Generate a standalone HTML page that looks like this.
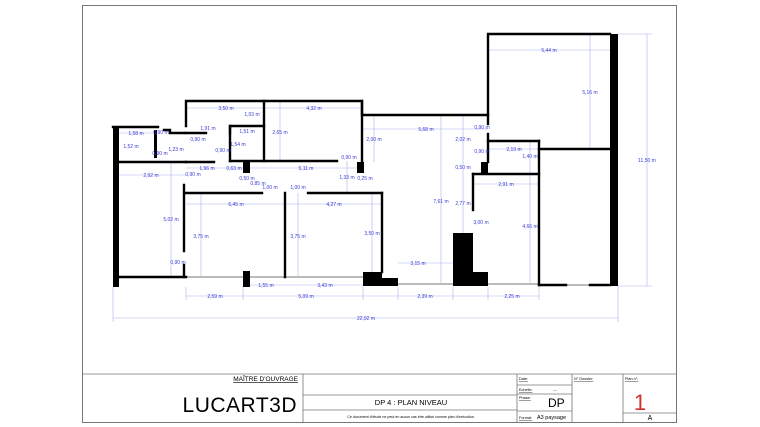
<!DOCTYPE html>
<html><head><meta charset="utf-8"><style>
html,body{margin:0;padding:0;background:#fff;width:760px;height:427px;overflow:hidden}
svg{display:block}
.d{font-family:"Liberation Sans",sans-serif;font-size:5px;fill:#3b3bd6;text-anchor:middle}
.t{font-family:"Liberation Sans",sans-serif;fill:#000}
</style></head><body>
<svg width="760" height="427" viewBox="0 0 760 427" xmlns="http://www.w3.org/2000/svg">
<rect x="82.5" y="5.5" width="594" height="417" fill="none" stroke="#777" stroke-width="1"/>
<g stroke="#aab0f0" stroke-width="0.6" fill="none">
<line x1="113" y1="318" x2="618" y2="318"/>
<line x1="186" y1="296" x2="539" y2="296"/>
<line x1="647" y1="34" x2="647" y2="286"/>
<line x1="618" y1="34" x2="652" y2="34"/><line x1="618" y1="286" x2="652" y2="286"/>
<line x1="113" y1="287" x2="113" y2="322"/><line x1="618" y1="286" x2="618" y2="322"/>
<line x1="186" y1="287" x2="186" y2="300"/><line x1="243" y1="287" x2="243" y2="300"/>
<line x1="363" y1="287" x2="363" y2="300"/><line x1="398" y1="287" x2="398" y2="300"/>
<line x1="453" y1="287" x2="453" y2="300"/><line x1="488" y1="287" x2="488" y2="300"/>
<line x1="539" y1="287" x2="539" y2="300"/>
<line x1="488" y1="50" x2="610" y2="50"/><line x1="590" y1="34" x2="590" y2="149"/>
<line x1="362" y1="129" x2="488" y2="129"/><line x1="441" y1="115" x2="441" y2="285"/>
<line x1="463" y1="115" x2="463" y2="233"/><line x1="398" y1="263" x2="453" y2="263"/>
<line x1="530" y1="174" x2="530" y2="285"/><line x1="473" y1="184" x2="539" y2="184"/>
<line x1="488" y1="149" x2="539" y2="149"/><line x1="530" y1="141" x2="530" y2="174"/>
<line x1="186" y1="108" x2="362" y2="108"/><line x1="186" y1="168" x2="362" y2="168"/>
<line x1="186" y1="204" x2="382" y2="204"/><line x1="119" y1="175" x2="186" y2="175"/>
<line x1="171" y1="162" x2="171" y2="277"/><line x1="201" y1="193" x2="201" y2="277"/>
<line x1="298" y1="193" x2="298" y2="277"/><line x1="372" y1="193" x2="372" y2="272"/>
<line x1="280" y1="101" x2="280" y2="161"/><line x1="347" y1="161" x2="347" y2="193"/>
<line x1="250" y1="285" x2="363" y2="285"/><line x1="119" y1="133" x2="155" y2="133"/>
<line x1="374" y1="115" x2="374" y2="162"/>
</g>
<g stroke="#bbb" stroke-width="2" fill="none">
<line x1="186" y1="277" x2="363" y2="277"/><line x1="398" y1="284" x2="453" y2="284"/>
<line x1="488" y1="284" x2="539" y2="284"/><line x1="566" y1="285" x2="590" y2="285"/>
</g>
<g stroke="#000" stroke-width="2.4" fill="none" stroke-linecap="square">
<polyline points="186,126 186,101 362,101 362,115 488,115 488,34 610,34"/>
<line x1="362" y1="101" x2="362" y2="162"/>
<line x1="264" y1="101" x2="264" y2="161"/>
<polyline points="230,133 230,126 264,126"/>
<line x1="230" y1="126" x2="230" y2="161"/>
<line x1="230" y1="161" x2="337" y2="161"/>
<line x1="113" y1="127" x2="158" y2="127"/>
<polyline points="164,130 170,130 170,133 185,133"/>
<line x1="186" y1="133" x2="206" y2="133"/>
<line x1="119" y1="162" x2="186" y2="162"/>
<line x1="186" y1="162" x2="214" y2="162"/>
<line x1="119" y1="277" x2="186" y2="277"/>
<line x1="184" y1="185" x2="184" y2="251"/>
<line x1="184" y1="265" x2="184" y2="277"/>
<line x1="186" y1="193" x2="262" y2="193"/>
<line x1="308" y1="193" x2="382" y2="193"/>
<line x1="285" y1="193" x2="285" y2="277"/>
<line x1="382" y1="193" x2="382" y2="272"/>
<line x1="488" y1="115" x2="488" y2="124"/>
<line x1="488" y1="134" x2="488" y2="162"/>
<line x1="488" y1="141" x2="539" y2="141"/>
<line x1="539" y1="141" x2="539" y2="285"/>
<line x1="539" y1="149" x2="610" y2="149"/>
<line x1="473" y1="174" x2="539" y2="174"/>
<line x1="473" y1="174" x2="473" y2="210"/>
<line x1="539" y1="285" x2="566" y2="285"/><line x1="590" y1="285" x2="610" y2="285"/>
</g>
<g fill="#000">
<rect x="113" y="127" width="6" height="160"/>
<rect x="154" y="130" width="3" height="28"/>
<rect x="243" y="162" width="7" height="11"/>
<rect x="243" y="271" width="7" height="16"/>
<rect x="357" y="162" width="7" height="11"/>
<rect x="363" y="272" width="19" height="14"/>
<rect x="382" y="278" width="16" height="8"/>
<rect x="481" y="162" width="7" height="11"/>
<rect x="453" y="233" width="20" height="53"/>
<rect x="473" y="272" width="15" height="14"/>
<rect x="610" y="34" width="8" height="252"/>
</g>
<g class="d">
<text x="226" y="110">3,50 m</text><text x="252" y="116">1,03 m</text><text x="314" y="110">4,32 m</text>
<text x="208" y="130">1,91 m</text><text x="136" y="135">1,58 m</text><text x="161" y="134">0,90 m</text>
<text x="247" y="133">1,51 m</text><text x="280" y="134">2,65 m</text><text x="131" y="148">1,52 m</text>
<text x="176" y="151">1,23 m</text><text x="160" y="155">0,90 m</text><text x="198" y="141">0,90 m</text>
<text x="238" y="146">1,54 m</text><text x="223" y="152">0,90 m</text><text x="374" y="141">2,00 m</text>
<text x="426" y="131">5,68 m</text><text x="482" y="129">0,90 m</text><text x="463" y="141">2,02 m</text>
<text x="482" y="153">0,90 m</text><text x="514" y="151">2,19 m</text><text x="530" y="158">1,40 m</text>
<text x="463" y="169">0,50 m</text><text x="506" y="186">2,91 m</text><text x="441" y="203">7,61 m</text>
<text x="463" y="205">2,77 m</text><text x="481" y="224">3,00 m</text><text x="530" y="228">4,66 m</text>
<text x="549" y="52">5,44 m</text><text x="590" y="94">5,16 m</text><text x="647" y="162">11,50 m</text>
<text x="151" y="177">2,92 m</text><text x="207" y="170">1,96 m</text><text x="234" y="170">0,63 m</text>
<text x="306" y="170">5,11 m</text><text x="349" y="159">0,90 m</text><text x="193" y="176">0,90 m</text>
<text x="247" y="180">0,50 m</text><text x="258" y="185">0,85 m</text><text x="270" y="189">1,00 m</text>
<text x="298" y="189">1,00 m</text><text x="347" y="179">1,33 m</text><text x="365" y="180">0,25 m</text>
<text x="236" y="206">6,45 m</text><text x="334" y="206">4,27 m</text><text x="171" y="221">5,02 m</text>
<text x="201" y="238">3,75 m</text><text x="298" y="238">3,75 m</text><text x="372" y="235">3,50 m</text>
<text x="178" y="264">0,90 m</text><text x="418" y="265">3,15 m</text><text x="266" y="287">1,55 m</text>
<text x="325" y="287">3,43 m</text><text x="215" y="298">2,59 m</text><text x="306" y="298">5,09 m</text>
<text x="425" y="298">2,39 m</text><text x="512" y="298">2,25 m</text><text x="366" y="320">22,92 m</text>
</g>
<g stroke="#777" stroke-width="0.8" fill="none">
<line x1="82" y1="374" x2="676" y2="374"/>
<line x1="303" y1="374" x2="303" y2="422"/><line x1="517" y1="374" x2="517" y2="422"/>
<line x1="572" y1="374" x2="572" y2="422"/><line x1="623" y1="374" x2="623" y2="422"/>
<line x1="303" y1="395" x2="517" y2="395"/><line x1="303" y1="410" x2="517" y2="410"/>
<line x1="517" y1="385" x2="572" y2="385"/><line x1="517" y1="394" x2="572" y2="394"/>
<line x1="517" y1="411" x2="572" y2="411"/><line x1="623" y1="413" x2="676" y2="413"/>
</g>
<text class="t" x="298" y="381" font-size="6.5" text-anchor="end" text-decoration="underline">MAÎTRE D'OUVRAGE</text>
<text class="t" x="297" y="412" font-size="21" text-anchor="end" fill="#555" style="letter-spacing:0.5px">LUCART3D</text>
<text class="t" x="411" y="405" font-size="7.5" text-anchor="middle">DP 4 :  PLAN NIVEAU</text>
<text class="t" x="411" y="418" font-size="3.6" text-anchor="middle" fill="#444">Ce document d'étude ne peut en aucun cas être utilisé comme plan d'exécution.</text>
<g class="t" font-size="3.8" text-decoration="underline"><text x="519" y="380">Date:</text><text x="519" y="391">Echelle:</text><text x="519" y="399">Phase:</text><text x="519" y="419">Format:</text><text x="574" y="380">N° Dossier:</text><text x="625" y="380">Plan n°:</text></g>
<text class="t" x="553" y="391" font-size="4">---</text>
<text class="t" x="548" y="407" font-size="12">DP</text>
<text class="t" x="537" y="419" font-size="5.5">A3 paysage</text>
<text x="640" y="410" font-size="22" fill="#d03030" font-family="Liberation Sans,sans-serif" text-anchor="middle">1</text>
<text class="t" x="650" y="420" font-size="7" text-anchor="middle">A</text>
</svg>
</body></html>
